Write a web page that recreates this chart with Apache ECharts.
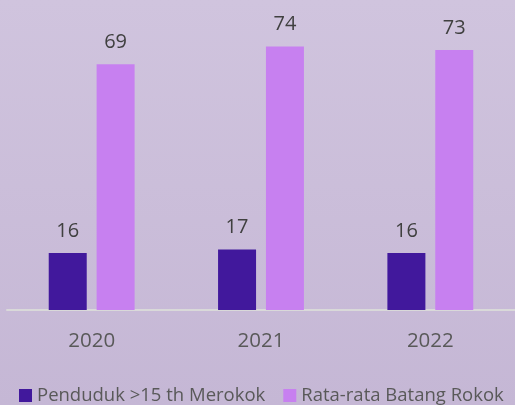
<!DOCTYPE html>
<html>
<head>
<meta charset="utf-8">
<script src="https://cdn.jsdelivr.net/npm/echarts@6/dist/echarts.min.js"></script>
<style>
html, body { margin: 0; padding: 0; }
#chart { width: 515px; height: 405px; background: linear-gradient(#d0c4de, #c5b7d5); }
</style>
</head>
<body>
<div id="chart"></div>
<script>
// data
var categories = ['2020', '2021', '2022'];
var perokok = [16, 17, 16];      // Penduduk >15 th Merokok
var batang = [69, 74, 73];       // Rata-rata Batang Rokok

var myChart = echarts.init(document.getElementById('chart'));
var labelStyle = { show: true, position: 'top', distance: 12, fontSize: 20, color: '#404040', fontFamily: 'Open Sans' };
var option = {
    textStyle: { fontFamily: 'Open Sans' },
    grid: { left: 7, right: -4, top: 25, bottom: 95 },
    legend: {
        top: 381,
        left: 14,
        itemWidth: 13,
        itemHeight: 13,
        itemGap: 18,
        icon: 'rect',
        textStyle: { fontSize: 18.5, color: '#595959' },
        data: ['Penduduk >15 th Merokok', 'Rata-rata Batang Rokok']
    },
    xAxis: {
        type: 'category',
        data: categories,
        axisLine: { lineStyle: { color: '#d9d9d9', width: 2 } },
        axisTick: { show: false },
        axisLabel: { fontSize: 20.5, color: '#595959', margin: 21 }
    },
    yAxis: { type: 'value', min: 0, max: 80, show: false, splitLine: { show: false } },
    series: [
        { name: 'Penduduk >15 th Merokok', type: 'bar', data: perokok, barWidth: 38, barGap: '26%', itemStyle: { color: '#41189c' }, label: labelStyle },
        { name: 'Rata-rata Batang Rokok', type: 'bar', data: batang, barWidth: 38, itemStyle: { color: '#c780f0' }, label: labelStyle }
    ]
};
myChart.setOption(option);
</script>
</body>
</html>
